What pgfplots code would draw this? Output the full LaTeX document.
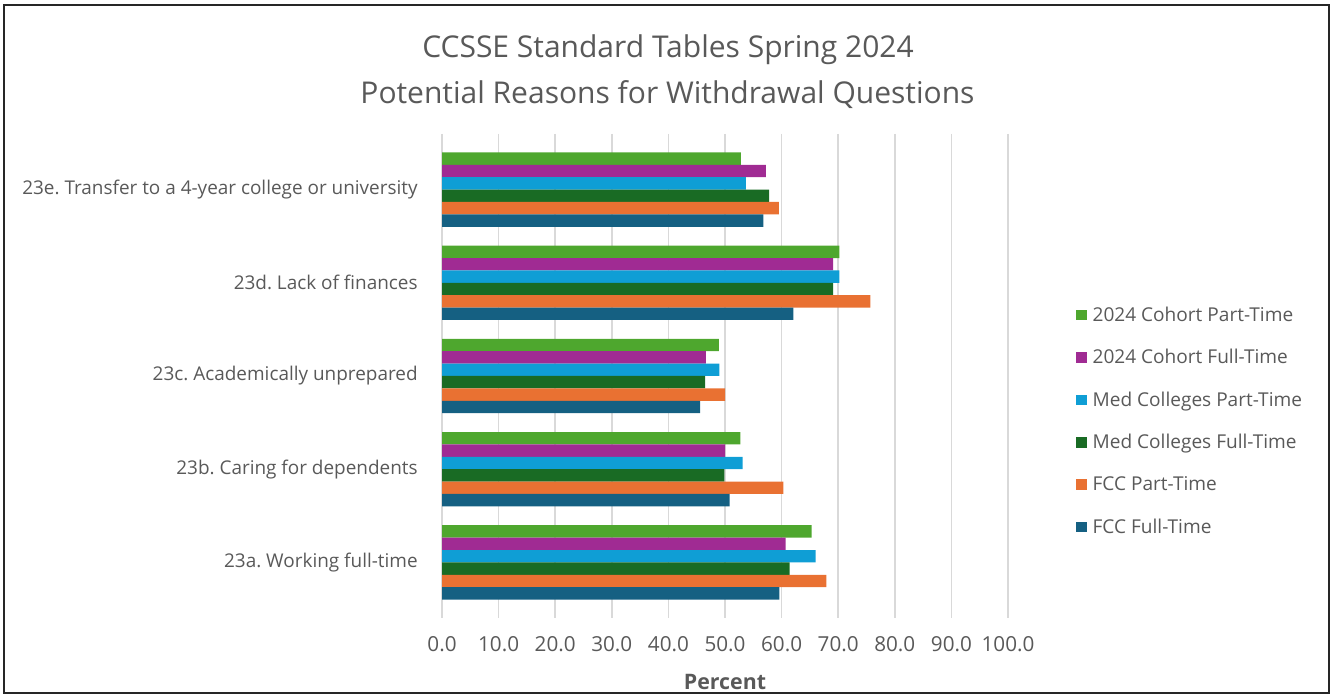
\documentclass[border=0pt]{standalone}
\usepackage{pgfplots}
\pgfplotsset{compat=1.18}
\usepackage{fontspec}
\setmainfont{Open Sans}
\frenchspacing

\definecolor{cohortpt}{HTML}{4EA72E}
\definecolor{cohortft}{HTML}{A02B93}
\definecolor{medpt}{HTML}{0F9ED5}
\definecolor{medft}{HTML}{196B24}
\definecolor{fccpt}{HTML}{E97132}
\definecolor{fccft}{HTML}{156082}
\definecolor{txt}{HTML}{595959}
\definecolor{gridgray}{HTML}{D9D9D9}

\begin{document}
\begin{tikzpicture}
  \useasboundingbox (0,0) rectangle (999.75pt,523.5pt);
  \draw[line width=1.6pt, black!85] (3.2pt,3.6pt) rectangle (996.8pt,519.8pt);

  \node[anchor=base, text=txt, font=\fontsize{22.5}{26}\selectfont] at (501pt,480.5pt)
    {CCSSE Standard Tables Spring 2024};
  \node[anchor=base, text=txt, font=\fontsize{22.5}{26}\selectfont] at (500.6pt,446pt)
    {Potential Reasons for Withdrawal Questions};

  \begin{axis}[
    at={(331.5pt,66.75pt)}, anchor=south west,
    scale only axis,
    width=424.5pt, height=349.5pt,
    xbar,
    bar width=0.133,
    xmin=0, xmax=100,
    ymin=-0.5, ymax=4.5,
    xtick={0,10,...,100},
    ytick={0,1,2,3,4},
    yticklabels={23a. Working full-time, 23b. Caring for dependents,
      23c. Academically unprepared, 23d. Lack of finances,
      23e. Transfer to a 4-year college or university},
    xmajorgrids=true,
    ymajorgrids=false,
    grid style={draw=gridgray, line width=1.1pt},
    axis line style={draw=none},
    tick align=outside,
    x tick style={draw=gridgray, line width=1.1pt},
    major tick length=6.75pt,
    y tick style={draw=none},
    xticklabel style={text=txt, font=\fontsize{15.5}{18}\selectfont,
      /pgf/number format/.cd, fixed, fixed zerofill, precision=1,
      assume math mode=true},
    yticklabel style={text=txt, font=\fontsize{14.2}{17}\selectfont, align=right},
    yticklabel shift=8pt,
    xticklabel shift=10pt,
    xlabel={\textbf{Percent}},
    xlabel style={text=txt, font=\fontsize{16}{18}\selectfont, yshift=-10pt},
    legend style={at={(1.1125,0.4035)}, anchor=west, draw=none, fill=none,
      font=\fontsize{14.3}{17}\selectfont, text=txt, row sep=15.5pt,
      /tikz/every odd column/.append style={column sep=2.5pt}},
    legend cell align=left,
    legend image code/.code={\draw[#1,draw=none] (0pt,-4pt) rectangle (8pt,4pt);},
    every axis plot/.append style={draw=none},
  ]
    \addplot[fill=cohortpt, bar shift=0.3325] coordinates
      {(65.3,0) (52.7,1) (48.9,2) (70.2,3) (52.8,4)};
    \addplot[fill=cohortft, bar shift=0.1995] coordinates
      {(60.7,0) (50.0,1) (46.6,2) (69.1,3) (57.2,4)};
    \addplot[fill=medpt, bar shift=0.0665] coordinates
      {(66.0,0) (53.1,1) (49.0,2) (70.2,3) (53.7,4)};
    \addplot[fill=medft, bar shift=-0.0665] coordinates
      {(61.4,0) (49.9,1) (46.5,2) (69.1,3) (57.8,4)};
    \addplot[fill=fccpt, bar shift=-0.1995] coordinates
      {(67.9,0) (60.3,1) (50.0,2) (75.7,3) (59.5,4)};
    \addplot[fill=fccft, bar shift=-0.3325] coordinates
      {(59.6,0) (50.8,1) (45.6,2) (62.1,3) (56.8,4)};
    \legend{2024 Cohort Part-Time, 2024 Cohort Full-Time, Med Colleges Part-Time,
      Med Colleges Full-Time, FCC Part-Time, FCC Full-Time}
  \end{axis}
\end{tikzpicture}
\end{document}
